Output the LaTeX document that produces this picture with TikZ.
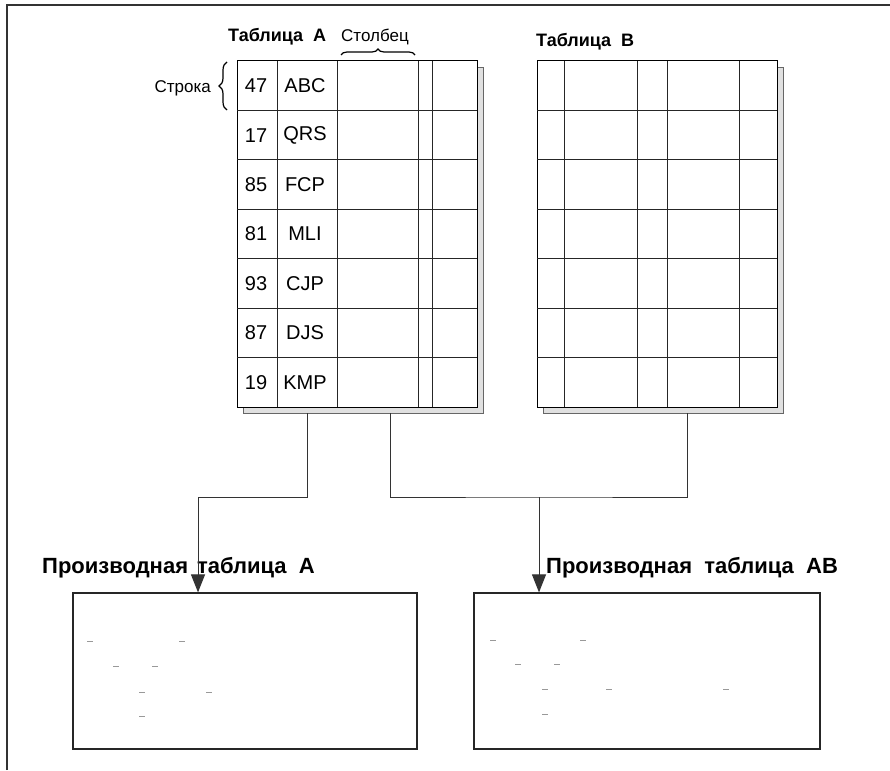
\documentclass[tikz,border=0pt]{standalone}
\usepackage{fontspec}
\setmainfont{Liberation Sans}
\usetikzlibrary{arrows.meta,decorations.pathreplacing,calc}
\begin{document}
\begin{tikzpicture}[x=1pt,y=-1pt,
  grid/.style={draw=black!85,line width=0.9pt},
  shadowbox/.style={draw=black!60,fill=black!12,line width=0.9pt,rectangle,inner sep=0pt,minimum width=240pt,minimum height=346pt},
  tablebox/.style={draw=black,fill=white,line width=1pt,rectangle,inner sep=0pt,minimum width=240pt,minimum height=346pt},
  derived/.style={draw=black!85,line width=1.2pt,rectangle,inner sep=0pt,minimum height=156pt},
  conn/.style={draw=black!80,line width=1pt},
  title/.style={font=\bfseries\fontsize{18}{20}\selectfont,inner sep=0pt},
  bigtitle/.style={font=\bfseries\fontsize{22}{24}\selectfont,inner sep=0pt},
  lbl/.style={font=\fontsize{17}{19}\selectfont,inner sep=0pt},
  cell/.style={font=\fontsize{20}{22}\selectfont,inner sep=0pt},
  tickmark/.style={draw=black!40,line width=0.5pt},
  arr/.style={-{Triangle[length=18pt,width=14pt]}}
]
\useasboundingbox (0,0) rectangle (890,770);
% outer frame (only top and left visible)
\draw[line width=1.5pt,black!80] (7,770) -- (7,5) -- (890,5);

% shadows and tables
\node[shadowbox] (shA) at (363,240) {};
\node[tablebox] (tabA) at (357,234) {};
\node[shadowbox] (shB) at (663,240) {};
\node[tablebox] (tabB) at (657,234) {};

% table A grid
\foreach \x in {277,337,418,432} \draw[grid] (\x,61) -- (\x,407);
\foreach \i in {1,...,6} \draw[grid] (237,{61+\i*346/7}) -- (477,{61+\i*346/7});
% table B grid
\foreach \x in {564,637,667,739} \draw[grid] (\x,61) -- (\x,407);
\foreach \i in {1,...,6} \draw[grid] (537,{61+\i*346/7}) -- (777,{61+\i*346/7});

% cell contents
\foreach \n/\t [count=\k from 0] in {47/ABC,17/QRS,85/FCP,81/MLI,93/CJP,87/DJS,19/KMP}{
  \node[cell] (num\k) at (256,{61+(\k+0.5)*346/7}) {\n};
  \node[cell] (txt\k) at (305,{61+(\k+0.5)*346/7}) {\t};
}

% labels
\node[title,anchor=base west] (titA) at (228,42) {Таблица\ \ A};
\node[lbl,anchor=base west] (col) at (341,42) {Столбец};
\node[title,anchor=base west] (titB) at (536,47) {Таблица\ \ B};
\node[lbl,anchor=base east] (row) at (211,93) {Строка};
\draw[line width=1.2pt,decorate,decoration={brace,amplitude=6pt}] (341,55) -- (415,55);
\draw[line width=1.2pt,decorate,decoration={brace,amplitude=8pt}] (227,110) -- (227,62);

% derived tables
\node[derived,minimum width=344pt] (dA) at (245,671) {};
\node[derived,minimum width=346pt] (dB) at (647,671) {};
\node[bigtitle,anchor=base west] (tdA) at (42,573) {Производная\hspace{9pt}таблица\ \ A};
\node[bigtitle,anchor=base west] (tdB) at (546,573) {Производная\ \ таблица\ \ AB};

% connectors
\coordinate (jA) at (198,497);
\coordinate (jB) at (539,497);
\draw[conn,arr] ([xshift=-56pt]shA.south) |- (jA) -- (jA |- dA.north);
\draw[conn] ([xshift=27pt]shA.south) |- (jB) -| ([xshift=24pt]shB.south);
\draw[conn,arr] (jB) -- (jB |- dB.north);

% tiny marks in derived tables
\foreach \x/\y in {87/641,179/641,113/666,152/666,139/692,206/692,139/716}
  \draw[tickmark] (\x,\y) -- ++(6,0);
\foreach \x/\y in {490/640,580/640,515/664,554/664,542/689,606/689,723/689,542/714}
  \draw[tickmark] (\x,\y) -- ++(6,0);
\end{tikzpicture}
\end{document}
